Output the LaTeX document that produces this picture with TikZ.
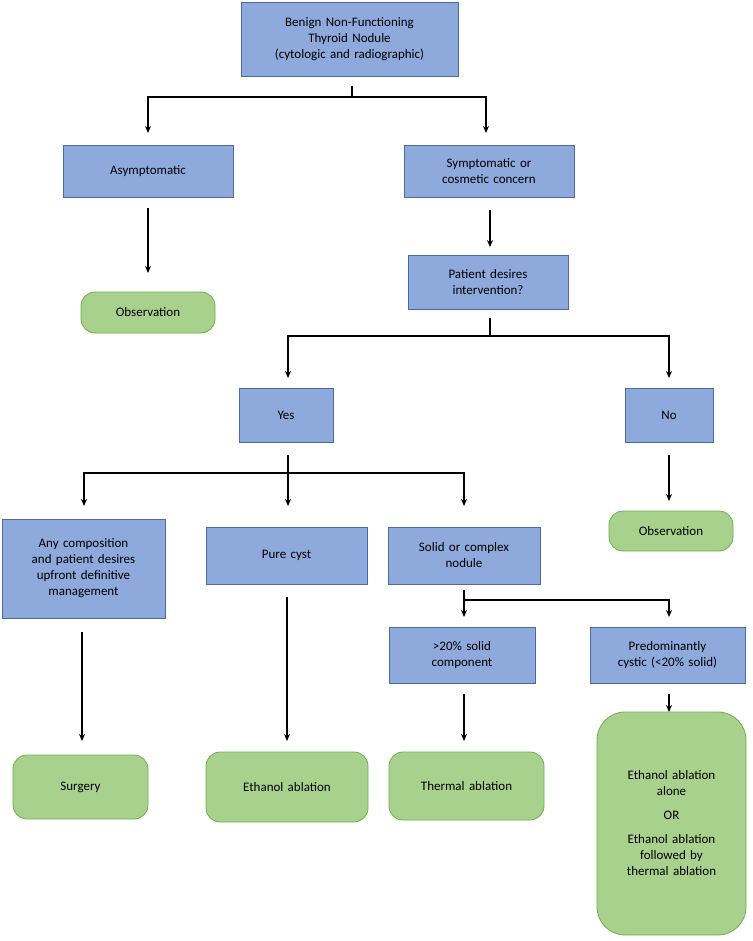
\documentclass[tikz,border=0pt]{standalone}
\usepackage{fontspec}
\setmainfont{Carlito}
\definecolor{bfill}{HTML}{8EA9DB}
\definecolor{bdraw}{HTML}{4A6BA8}
\definecolor{gfill}{HTML}{A9D18E}
\definecolor{gdraw}{HTML}{70AD47}
\tikzset{
  box/.style={draw=bdraw, fill=bfill, line width=0.8pt, align=center, font=\fontsize{13}{16}\selectfont, inner sep=2pt},
  term/.style={draw=gdraw, fill=gfill, line width=0.8pt, rounded corners=14pt, align=center, font=\fontsize{13}{16}\selectfont, inner sep=2pt},
  conn/.style={line width=1.1pt, black},
  arr/.style={conn, -{Stealth[length=7pt,width=6pt]}}
}
\usetikzlibrary{arrows.meta}
\newcommand{\bx}[7]{\node[#1, minimum width=#4pt, minimum height=#5pt, text width=#6pt] (#2) at (#3) {#7};}
\begin{document}
\begin{tikzpicture}[x=1pt,y=-1pt]
\useasboundingbox (0,0) rectangle (752,941);
\bx{box}{top}{349.5,39}{217}{74}{205}{Benign Non-Functioning\\Thyroid Nodule\\(cytologic and radiographic)}
\bx{box}{asym}{148,171}{170}{52}{160}{Asymptomatic}
\bx{box}{sym}{489,171}{170}{52}{160}{Symptomatic or\\cosmetic concern}
\bx{term}{obs1}{148,312.5}{134}{41}{124}{Observation}
\bx{box}{pat}{488,282}{160}{54}{150}{Patient desires\\intervention?}
\bx{box}{yes}{286,415}{94}{54}{84}{Yes}
\bx{box}{no}{669,415}{88}{54}{78}{No}
\bx{term}{obs2}{671,531}{124}{40}{114}{Observation}
\bx{box}{any}{83.5,568.5}{163}{99}{155}{Any composition\\and patient desires\\upfront definitive\\management}
\bx{box}{pure}{286.5,555.5}{161}{57}{150}{Pure cyst\\[14pt]}
\bx{box}{solid}{464,555.5}{152}{57}{142}{Solid or complex\\nodule}
\bx{box}{gt}{462,655}{146}{56}{136}{>20\% solid\\component}
\bx{box}{pred}{667.5,655}{155}{56}{148}{Predominantly\\cystic (<20\% solid)}
\bx{term}{surg}{80.5,787}{135}{64}{125}{Surgery}
\bx{term}{eth}{287,787}{162}{70}{152}{Ethanol ablation}
\bx{term}{therm}{466.5,786}{155}{68}{145}{Thermal ablation}
\node[draw=gdraw, fill=gfill, line width=0.8pt, rounded corners=28pt, align=center, font=\fontsize{13}{16}\selectfont, minimum width=149pt, minimum height=223pt, text width=139pt] (big) at (671.5,823.5) {Ethanol ablation\\alone\\[8pt]OR\\[8pt]Ethanol ablation\\followed by\\thermal ablation};
% connectors
\coordinate (s1) at (352,97);
\draw[conn] (352,86) -- (s1);
\draw[arr] (s1) -| (148,133);
\draw[arr] (s1) -| (486,133);
\draw[arr] (148,208) -- (148,273);
\draw[arr] (490,210) -- (490,247);
\coordinate (s2) at (490,336);
\draw[conn] (490,318) -- (s2);
\draw[arr] (s2) -| (288,378);
\draw[arr] (s2) -| (669,378);
\coordinate (s3) at (288,473);
\draw[conn] (288,455) -- (s3);
\draw[arr] (s3) -| (84,506);
\draw[arr] (s3) -- (288,506);
\draw[arr] (s3) -| (464,506);
\draw[arr] (669,455) -- (669,501);
\draw[arr] (82,632) -- (82,741);
\draw[arr] (287,597) -- (287,741);
\coordinate (s4) at (464,600);
\draw[conn] (464,590) -- (s4);
\draw[arr] (s4) -- (464,617);
\draw[arr] (s4) -| (669,617);
\draw[arr] (464,694) -- (464,741);
\draw[arr] (669,694) -- (669,712);
\end{tikzpicture}
\end{document}
